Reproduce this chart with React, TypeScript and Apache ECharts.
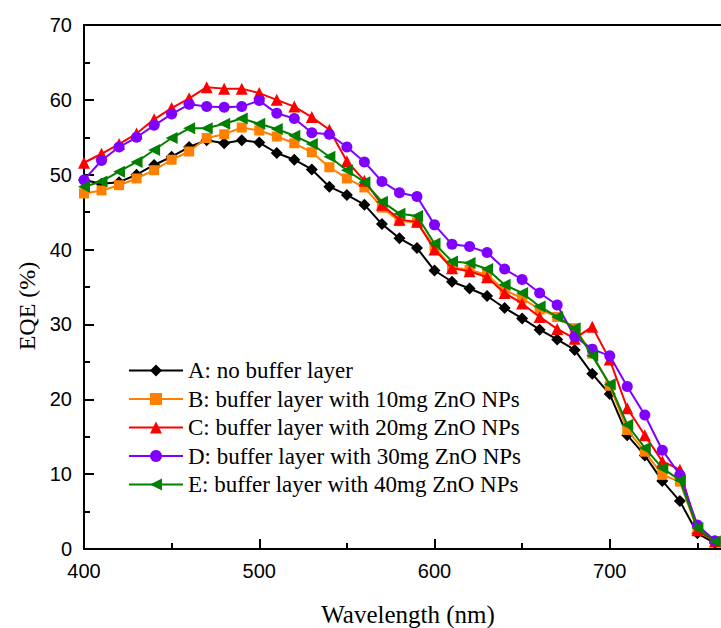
import React, { useEffect, useRef } from "react";
import * as echarts from "echarts";

const wavelengths = [400, 410, 420, 430, 440, 450, 460, 470, 480, 490, 500, 510, 520, 530, 540, 550, 560, 570, 580, 590, 600, 610, 620, 630, 640, 650, 660, 670, 680, 690, 700, 710, 720, 730, 740, 750, 760];

const seriesA = [49.3, 48.8, 49.0, 50.0, 51.3, 52.4, 53.7, 54.6, 54.2, 54.6, 54.3, 52.9, 52.0, 50.7, 48.4, 47.3, 46.0, 43.4, 41.5, 40.2, 37.2, 35.7, 34.8, 33.8, 32.2, 30.8, 29.3, 28.0, 26.6, 23.4, 20.7, 15.2, 12.5, 9.1, 6.4, 2.1, 0.8];
const seriesB = [47.5, 47.9, 48.6, 49.5, 50.6, 52.0, 53.1, 54.9, 55.4, 56.3, 55.9, 55.1, 54.2, 53.0, 51.0, 49.5, 48.3, 45.6, 43.8, 43.6, 40.4, 37.6, 37.3, 36.6, 34.6, 33.5, 32.0, 31.0, 29.5, 26.1, 21.8, 15.9, 13.0, 9.9, 9.0, 2.5, 1.0];
const seriesC = [51.6, 52.8, 54.1, 55.5, 57.4, 58.9, 60.2, 61.7, 61.5, 61.5, 60.9, 60.0, 59.1, 57.7, 56.0, 51.8, 49.2, 46.0, 44.0, 43.7, 40.0, 37.5, 37.1, 36.3, 34.2, 32.8, 31.0, 29.4, 28.1, 29.7, 25.3, 18.8, 15.2, 11.7, 10.6, 2.5, 1.0];
const seriesD = [49.3, 51.9, 53.7, 55.0, 56.6, 58.1, 59.4, 59.1, 59.0, 59.1, 59.9, 58.2, 57.5, 55.6, 55.4, 53.7, 51.7, 49.1, 47.6, 47.1, 43.3, 40.7, 40.4, 39.6, 37.4, 36.0, 34.2, 32.6, 28.4, 26.7, 25.8, 21.7, 17.9, 13.2, 9.9, 3.2, 1.1];
const seriesE = [48.4, 49.1, 50.4, 51.7, 53.3, 54.9, 56.2, 56.2, 56.8, 57.5, 56.8, 56.1, 55.2, 54.1, 52.4, 50.6, 49.0, 46.4, 44.8, 44.5, 40.8, 38.4, 38.2, 37.4, 35.3, 34.2, 32.4, 31.0, 29.5, 25.8, 22.0, 16.6, 13.5, 10.8, 9.2, 2.8, 1.0];

const seriesNames = [
  "A: no buffer layer",
  "B: buffer layer with 10mg ZnO NPs",
  "C: buffer layer with 20mg ZnO NPs",
  "D: buffer layer with 30mg ZnO NPs",
  "E: buffer layer with 40mg ZnO NPs",
];
const seriesColors = ["#000000", "#ff8000", "#ff0000", "#8000ff", "#008000"];
const seriesSymbols = ["diamond", "rect", "triangle", "circle", "triangle"];
const seriesSymbolSizes = [12, 10, 12, 11, 12];
const seriesSymbolRotates = [0, 0, 0, 0, 90];

const xTitle = "Wavelength (nm)";
const yTitle = "EQE (%)";

export default function App() {
  const ref = useRef<HTMLDivElement>(null);
  useEffect(() => {
    if (!ref.current) return;
    const chart = echarts.init(ref.current, undefined, { renderer: "svg" });
    const allValues = [seriesA, seriesB, seriesC, seriesD, seriesE];
    const sans = "Liberation Sans, Arial, sans-serif";
    const serif = "Liberation Serif, Times New Roman, serif";
    chart.setOption({
      animation: false,
      backgroundColor: "#ffffff",
      grid: {
        left: 84,
        top: 25,
        width: 701,
        height: 524,
        show: true,
        borderColor: "#000",
        borderWidth: 2,
        backgroundColor: "transparent",
      },
      xAxis: {
        type: "value",
        min: 400,
        max: 800,
        interval: 100,
        axisLine: { show: true, lineStyle: { color: "#000", width: 2 } },
        axisTick: { show: true, inside: true, length: 10, lineStyle: { color: "#000", width: 2 } },
        minorTick: { show: true, splitNumber: 2, length: 6, lineStyle: { color: "#000", width: 2 } },
        splitLine: { show: false },
        axisLabel: { color: "#000", fontSize: 20, fontFamily: sans, margin: 12, showMaxLabel: false },
      },
      yAxis: {
        type: "value",
        min: 0,
        max: 70,
        interval: 10,
        axisLine: { show: true, lineStyle: { color: "#000", width: 2 } },
        axisTick: { show: true, inside: true, length: 10, lineStyle: { color: "#000", width: 2 } },
        minorTick: { show: true, splitNumber: 2, length: 6, lineStyle: { color: "#000", width: 2 } },
        splitLine: { show: false },
        axisLabel: { color: "#000", fontSize: 20, fontFamily: sans, margin: 12 },
      },
      legend: {
        orient: "vertical",
        left: 128,
        top: 359,
        padding: 0,
        itemWidth: 54,
        itemHeight: 15,
        itemGap: 5.5,
        textStyle: { color: "#000", fontSize: 23, fontFamily: serif },
        data: seriesNames,
      },
      graphic: [
        {
          type: "text",
          x: 27,
          y: 306,
          rotation: Math.PI / 2,
          style: {
            text: yTitle,
            fill: "#000",
            fontSize: 24,
            fontFamily: serif,
            align: "center",
            verticalAlign: "middle",
          },
        },
        {
          type: "text",
          x: 408,
          y: 614,
          style: {
            text: xTitle,
            fill: "#000",
            fontSize: 25,
            fontFamily: serif,
            align: "center",
            verticalAlign: "middle",
          },
        },
      ],
      series: seriesNames.map((name, k) => ({
        name,
        type: "line",
        data: wavelengths.map((w, i) => [w, allValues[k][i]]),
        symbol: seriesSymbols[k],
        symbolSize: seriesSymbolSizes[k],
        symbolRotate: seriesSymbolRotates[k],
        showAllSymbol: true,
        color: seriesColors[k],
        lineStyle: { color: seriesColors[k], width: 2 },
        itemStyle: { color: seriesColors[k] },
        z: 2 + k,
      })),
    });
    return () => chart.dispose();
  }, []);
  return (
    <div style={{ position: "fixed", left: 0, top: 0, width: 721, height: 628, overflow: "hidden", background: "#fff" }}>
      <div ref={ref} style={{ width: 806, height: 628 }} />
    </div>
  );
}
